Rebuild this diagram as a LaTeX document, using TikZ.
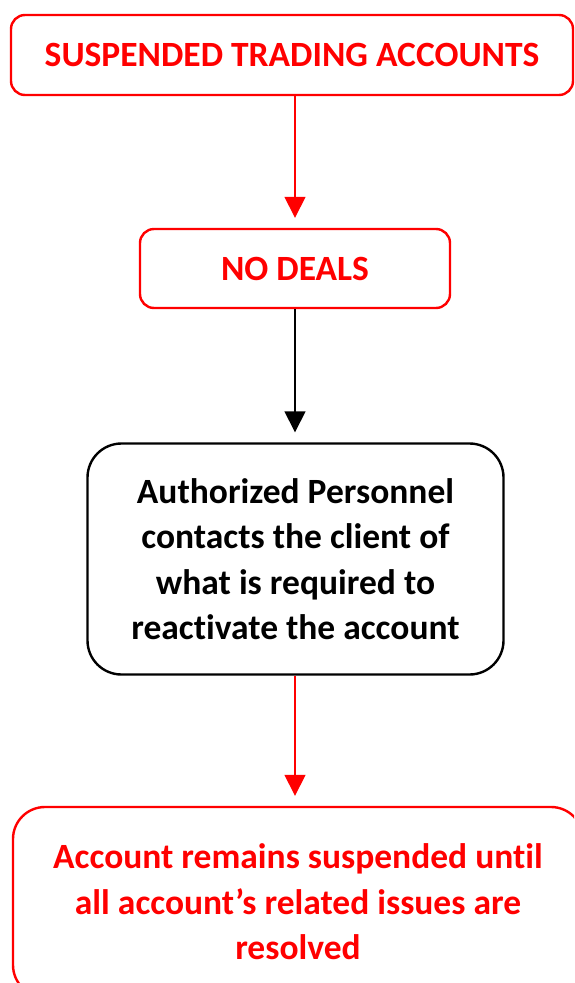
\documentclass[tikz,border=0pt]{standalone}
\usepackage{fontspec}
\setmainfont[Ligatures={NoCommon}]{Carlito}
\usetikzlibrary{arrows.meta}
\definecolor{flowred}{RGB}{255,0,0}
\tikzset{
  flowbox/.style={draw, line width=2.4pt, rounded corners=#1, inner sep=0pt,
    align=center, font=\fontsize{35.5}{45.5}\selectfont\bfseries},
  redbox/.style={flowbox=#1, draw=flowred, text=flowred},
  blackbox/.style={flowbox=#1, draw=black, text=black},
  flowarrow/.style={line width=1.5pt, shorten >=10pt,
    -{Triangle[width=21pt,length=21pt]}},
}
\begin{document}
\begin{tikzpicture}[x=1pt, y=-1pt]
  \useasboundingbox (0,0) rectangle (574,983);
  \fill[white] (0,0) rectangle (574,983);
  \clip (0,0) rectangle (574,983);

  \node[redbox=14pt, minimum width=562pt, minimum height=80pt] (susp) at (292,55)
    {SUSPENDED TRADING ACCOUNTS};
  \node[redbox=14pt, minimum width=310pt, minimum height=79pt] (nodeals) at (295,268.5)
    {NO DEALS};
  \node[blackbox=34pt, minimum width=416pt, minimum height=231pt] (contact) at (295.5,559)
    {Authorized Personnel\\contacts the client of\\what is required to\\reactivate the account};
  \node[redbox=32pt, minimum width=570pt, minimum height=190pt] (remain) at (298,902)
    {Account remains suspended until\\all account’s related issues are\\resolved};

  \draw[flowarrow, draw=flowred, fill=flowred] (susp.south -| 295,0) -- (nodeals.north -| 295,0);
  \draw[flowarrow, draw=black, fill=black] (nodeals.south -| 295,0) -- (contact.north -| 295,0);
  \draw[flowarrow, draw=flowred, fill=flowred] (contact.south -| 295,0) -- (remain.north -| 295,0);
\end{tikzpicture}
\end{document}
